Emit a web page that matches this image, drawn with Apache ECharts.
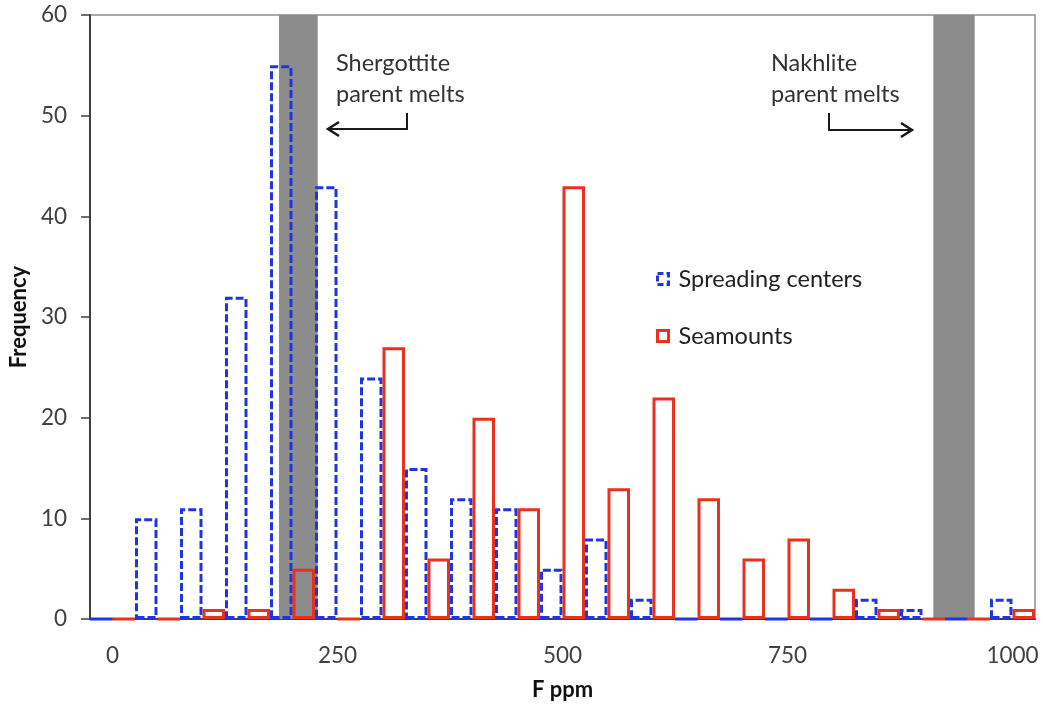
<!DOCTYPE html>
<html><head><meta charset="utf-8">
<script src="https://cdn.jsdelivr.net/npm/echarts@6/dist/echarts.min.js"></script>
<style>html,body{margin:0;padding:0;background:#fff}#c{width:1043px;height:707px}</style>
</head><body><div id="c"></div>
<script>
// F ppm bins (category axis)
const bins = ['0','50','100','150','200','250','300','350','400','450','500','550','600','650','700','750','800','850','900','950','1000'];
// Frequency per bin
const spreadingCenters = [0,10,11,32,55,43,24,15,12,11,5,8,2,0,0,0,0,2,1,0,2];
const seamounts        = [0,0,1,1,5,0,27,6,20,11,43,13,22,12,6,8,3,1,0,0,1];
// Parent-melt ranges (F ppm)
const shergottiteBand = [185, 228];
const nakhliteBand    = [912, 958];
const yTickStep = 10, yMax = 60;

const FONT = 'Lato';
const BLUE = '#1f35e0', RED = '#e8321e';

const chart = echarts.init(document.getElementById('c'), null, {renderer:'canvas'});
chart.setOption({
  animation:false,
  backgroundColor:'#fff',
  grid:{left:87, right:8, top:15, bottom:88, show:true, borderColor:'#8c8c8c', borderWidth:1.5, containLabel:false},
  legend:{
    orient:'vertical', left:651, top:262, itemWidth:11, itemHeight:11, itemGap:33,
    textStyle:{fontFamily:FONT, fontSize:23.5, color:'#222', padding:[0,0,0,5]},
    data:[
      {name:'Spreading centers', icon:'rect', itemStyle:{color:'rgba(0,0,0,0)', borderColor:BLUE, borderWidth:3, borderType:[6,3]}},
      {name:'Seamounts', icon:'rect', itemStyle:{color:'rgba(0,0,0,0)', borderColor:RED, borderWidth:3}}
    ]
  },
  xAxis:[{
    type:'category', data:bins, boundaryGap:true,
    name:'F ppm', nameLocation:'middle', nameGap:60,
    nameTextStyle:{fontFamily:FONT, fontSize:22, fontWeight:'bold', color:'#111'},
    axisLine:{lineStyle:{color:'#404040', width:2}},
    axisTick:{show:false},
    axisLabel:{interval:4, margin:25, fontFamily:FONT, fontSize:22.5, color:'#404040'}
  },{
    type:'value', min:-25, max:1025, show:false
  }],
  yAxis:{
    type:'value', min:0, max:yMax, interval:yTickStep,
    name:'Frequency', nameLocation:'middle', nameGap:57, nameRotate:90,
    nameTextStyle:{fontFamily:FONT, fontSize:22, fontWeight:'bold', color:'#111'},
    axisLine:{show:true, onZero:false, lineStyle:{color:'#404040', width:2}},
    axisTick:{show:true, length:9, lineStyle:{color:'#404040', width:1.5}},
    splitLine:{show:false},
    axisLabel:{margin:23, fontFamily:FONT, fontSize:22.5, color:'#404040'}
  },
  series:[
    {
      type:'line', xAxisIndex:1, data:[], z:1, silent:true,
      markArea:{silent:true, itemStyle:{color:'#8c8c8c'},
        data:[[{xAxis:shergottiteBand[0]},{xAxis:shergottiteBand[1]}],
              [{xAxis:nakhliteBand[0]},{xAxis:nakhliteBand[1]}]]}
    },
    {
      name:'Spreading centers', type:'bar', data:spreadingCenters, z:3,
      barCategoryGap:'0%', barGap:'0%',
      itemStyle:{color:'rgba(0,0,0,0)', borderColor:BLUE, borderWidth:3, borderType:[8,3]}
    },
    {
      name:'Seamounts', type:'bar', data:seamounts, z:4,
      barCategoryGap:'0%', barGap:'0%',
      itemStyle:{color:'rgba(0,0,0,0)', borderColor:RED, borderWidth:3}
    }
  ],
  graphic:[
    {type:'text', left:336, top:48, style:{text:'Shergottite\nparent melts', font:'23.5px Lato', fill:'#333', lineHeight:31}},
    {type:'text', left:771, top:48, style:{text:'Nakhlite\nparent melts', font:'23.5px Lato', fill:'#333', lineHeight:31}},
    {type:'polyline', shape:{points:[[407,113],[407,129],[328,129]]}, style:{stroke:'#1a1a1a', lineWidth:2, fill:null}},
    {type:'polyline', shape:{points:[[339,122],[328,129],[339,136]]}, style:{stroke:'#1a1a1a', lineWidth:2.5, fill:null}},
    {type:'polyline', shape:{points:[[829,113],[829,130],[912,130]]}, style:{stroke:'#1a1a1a', lineWidth:2, fill:null}},
    {type:'polyline', shape:{points:[[901,123],[912,130],[901,137]]}, style:{stroke:'#1a1a1a', lineWidth:2.5, fill:null}}
  ]
});
</script></body></html>
